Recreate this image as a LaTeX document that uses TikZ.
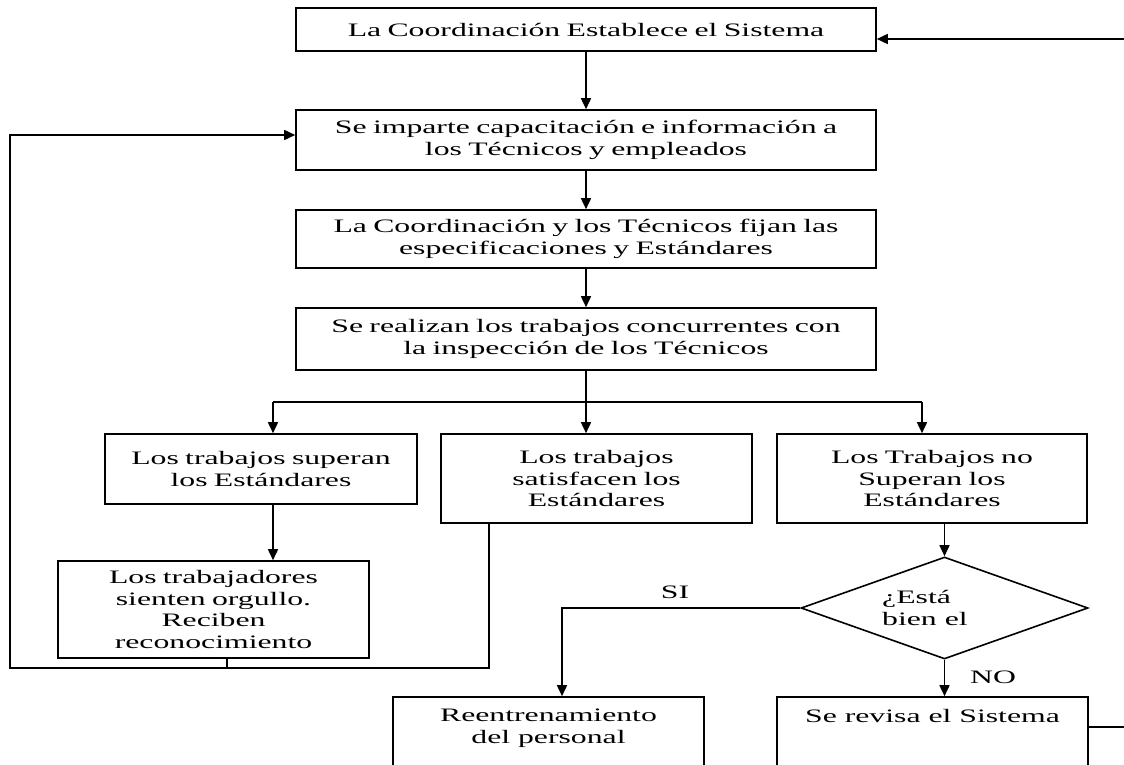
\documentclass[tikz,border=0pt]{standalone}
\usepackage{fontspec}
\setmainfont{Liberation Serif}[FakeStretch=1.67]
\usetikzlibrary{arrows.meta,shapes.geometric,calc}
\begin{document}
\begin{tikzpicture}[x=1pt,y=-1pt,
  every node/.style={font=\fontsize{19}{21.5}\selectfont},
  box/.style={draw,line width=1.6pt,inner sep=0pt,align=center},
  arr/.style={line width=1.6pt,-{Triangle[length=11pt,width=10pt]}},
  ln/.style={line width=1.6pt},
  txt/.style={inner sep=0pt,align=center}]
\clip (0,0) rectangle (1124,765);
\fill[white] (0,0) rectangle (1124,765);

\node[box,minimum width=580pt,minimum height=43pt,text width=572pt] (top) at (586,29.5) {La Coordinación Establece el Sistema};
\node[box,minimum width=580pt,minimum height=60pt,text width=572pt] (b2) at (586,140) {Se imparte capacitación e información a\\los Técnicos y empleados};
\node[box,minimum width=580pt,minimum height=58pt,text width=572pt] (b3) at (586,239) {La Coordinación y los Técnicos fijan las\\especificaciones y Estándares};
\node[box,minimum width=580pt,minimum height=62pt,text width=572pt] (b4) at (586,339) {Se realizan los trabajos concurrentes con\\la inspección de los Técnicos};

\node[box,minimum width=312pt,minimum height=70pt,text width=304pt] (A) at (261,469) {Los trabajos superan\\los Estándares};
\node[box,minimum width=311pt,minimum height=89pt,text width=303pt] (B) at (596.5,478.5) {Los trabajos\\satisfacen los\\Estándares};
\node[box,minimum width=310pt,minimum height=89pt,text width=302pt] (C) at (932,478.5) {Los Trabajos no\\Superan los\\Estándares};
\node[box,minimum width=311pt,minimum height=97pt,text width=303pt] (D) at (213.5,609.5) {Los trabajadores\\sienten orgullo.\\Reciben\\reconocimiento};

\node[diamond,draw,line width=1.6pt,inner sep=0pt,aspect=2.81,minimum width=287pt,minimum height=102pt] (dia) at (944.5,608) {};
\node[txt,align=left,anchor=west] (dt) at (882,608) {¿Está\\bien el};

\node[box,minimum width=311pt,minimum height=100pt] (E) at (548.5,747) {};
\node[txt,anchor=north] (Et) at ([yshift=-13pt]E.north) {Reentrenamiento\\del personal};
\node[box,minimum width=311pt,minimum height=100pt] (F) at (932.5,747) {};
\node[txt,anchor=north] (Ft) at ([yshift=-13pt]F.north) {Se revisa el Sistema};

\node[txt] (si) at (675,592) {SI};
\node[txt] (no) at (993,677) {NO};

% main column
\draw[arr] (top) -- (b2);
\draw[arr] (b2) -- (b3);
\draw[arr] (b3) -- (b4);

% branch
\coordinate (brc) at (586,402);
\coordinate (brl) at (273,402);
\coordinate (brr) at (922,402);
\draw[ln] (b4.south) -- (brc);
\draw[ln] (brl) -- (brr);
\draw[arr] (brl) -- (brl |- A.north);
\draw[arr] (brc) -- (brc |- B.north);
\draw[arr] (brr) -- (brr |- C.north);
\draw[arr] (brl |- A.south) -- (brl |- D.north);

% decision
\draw[arr] (dia.north |- C.south) -- (dia.north);
\coordinate (siX) at (562,608);
\draw[arr] (dia.west) -| (siX |- E.north);
\draw[arr] (dia.south) -- (dia.south |- F.north);

% return to top
\coordinate (rt) at (1140,39);
\coordinate (rb) at (1140,727);
\draw[arr] (F.east |- rb) -- (rb) -- (rt) -- (top.east |- rt);

% feedback loop
\coordinate (lb) at (10,668);
\coordinate (lt) at (10,135);
\coordinate (bx) at (489,668);
\draw[arr] (bx |- B.south) -- (bx) -- (lb) -- (lt) -- (b2.west |- lt);
\coordinate (tk) at (227,668);
\draw[ln] (tk |- D.south) -- (tk);
\end{tikzpicture}
\end{document}
